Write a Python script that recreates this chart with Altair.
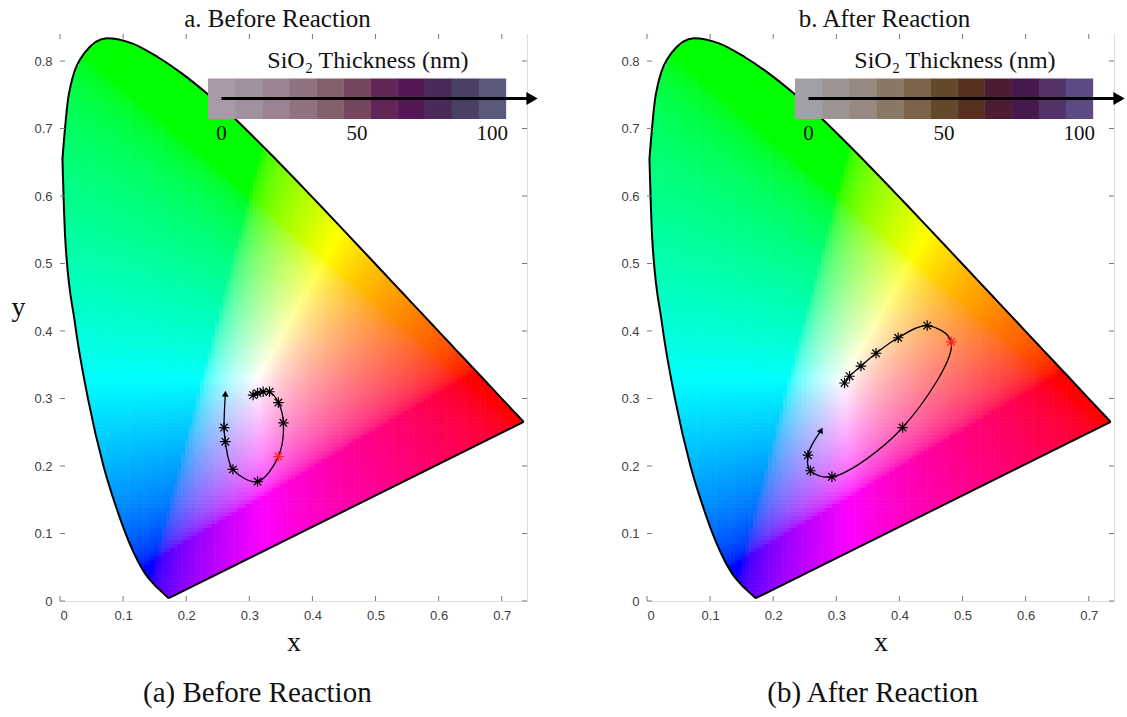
import numpy as np
import pandas as pd
import altair as alt

# ---------------- data ----------------
# CIE 1931 2-degree spectral locus (wavelength nm, x, y)
LOCUS_NM = [380, 390, 400, 410, 420, 430, 440, 445, 450, 455, 460, 465, 470, 475, 480, 485, 490, 495,
            500, 505, 510, 515, 520, 525, 530, 535, 540, 545, 550, 555, 560, 565, 570, 575, 580, 585,
            590, 595, 600, 605, 610, 615, 620, 630, 640, 650, 660, 680, 700]
LOCUS_X = [0.1741, 0.1738, 0.1733, 0.1726, 0.1714, 0.1689, 0.1644, 0.1611, 0.1566, 0.1510, 0.1440, 0.1355,
           0.1241, 0.1096, 0.0913, 0.0687, 0.0454, 0.0235, 0.0082, 0.0039, 0.0139, 0.0389, 0.0743, 0.1142,
           0.1547, 0.1929, 0.2296, 0.2658, 0.3016, 0.3373, 0.3731, 0.4087, 0.4441, 0.4788, 0.5125, 0.5448,
           0.5752, 0.6029, 0.6270, 0.6482, 0.6658, 0.6801, 0.6915, 0.7079, 0.7190, 0.7260, 0.7300, 0.7334, 0.7347]
LOCUS_Y = [0.0050, 0.0049, 0.0048, 0.0048, 0.0051, 0.0069, 0.0109, 0.0138, 0.0177, 0.0227, 0.0297, 0.0399,
           0.0578, 0.0868, 0.1327, 0.2007, 0.2950, 0.4127, 0.5384, 0.6548, 0.7502, 0.8120, 0.8338, 0.8262,
           0.8059, 0.7816, 0.7543, 0.7243, 0.6923, 0.6589, 0.6245, 0.5896, 0.5547, 0.5202, 0.4866, 0.4544,
           0.4242, 0.3965, 0.3725, 0.3514, 0.3340, 0.3197, 0.3083, 0.2920, 0.2809, 0.2740, 0.2700, 0.2666, 0.2653]

# SiO2 thickness (nm) and swatch colours
THICKNESS = [0, 10, 20, 30, 40, 50, 60, 70, 80, 90, 100]
SWATCH_A = ["#a898a8", "#a090a0", "#9a8292", "#907282", "#84606e", "#76465e", "#622656", "#541856",
            "#4a2a5a", "#4a4066", "#5a5a7c"]
SWATCH_B = ["#a2a0a6", "#9c9490", "#968a80", "#8a7866", "#7c6448", "#64482a", "#583020", "#4e1c32",
            "#46184c", "#523268", "#5e4a82"]

# chromaticity trajectories (x, y) for each thickness
A_X = [0.306, 0.313, 0.322, 0.332, 0.346, 0.354, 0.346, 0.313, 0.274, 0.262, 0.260]
A_Y = [0.305, 0.308, 0.310, 0.310, 0.294, 0.264, 0.214, 0.177, 0.195, 0.236, 0.257]
A_TIP = [0.262, 0.307]
B_X = [0.313, 0.321, 0.339, 0.363, 0.398, 0.444, 0.482, 0.405, 0.293, 0.259, 0.255]
B_Y = [0.323, 0.333, 0.348, 0.367, 0.390, 0.408, 0.384, 0.257, 0.184, 0.193, 0.216]
B_TIP = [0.276, 0.253]
HIGHLIGHT = 60  # nm, drawn in red

X_TICKS = [0, 0.1, 0.2, 0.3, 0.4, 0.5, 0.6, 0.7]
Y_TICKS = [0, 0.1, 0.2, 0.3, 0.4, 0.5, 0.6, 0.7, 0.8]

# ---------------- layout constants ----------------
W, H = 467, 567
XMAX, YMAX = 0.74, 0.84
SW_X0, SW_X1, SW_Y0, SW_Y1 = 0.2345, 0.7065, 0.714, 0.774
ARROW_Y, ARROW_END = 0.7445, 0.748
SERIF = "Liberation Serif"
SANS = "Liberation Sans"
STEP = 0.006

# ---------------- chromaticity background ----------------
lx = np.array(LOCUS_X)
ly = np.array(LOCUS_Y)


def inside(px, py):
    res = np.zeros(px.shape, dtype=bool)
    n = len(lx)
    j = n - 1
    for i in range(n):
        yi, yj, xi, xj = ly[i], ly[j], lx[i], lx[j]
        cond = ((yi > py) != (yj > py)) & (px < (xj - xi) * (py - yi) / (yj - yi + 1e-12) + xi)
        res ^= cond
        j = i
    return res


gx, gy = np.meshgrid(np.arange(0, XMAX, STEP), np.arange(0, YMAX, STEP))
gx = gx.ravel()
gy = gy.ravel()
keep = inside(gx + STEP / 2, gy + STEP / 2)
for dx in (0, STEP):
    for dy in (0, STEP):
        keep |= inside(gx + dx, gy + dy)
gx, gy = gx[keep], gy[keep]
cx, cy = gx + STEP / 2, gy + STEP / 2
cz = 1 - cx - cy
r = 3.2406 * cx - 1.5372 * cy - 0.4986 * cz
g = -0.9689 * cx + 1.8758 * cy + 0.0415 * cz
b = 0.0557 * cx - 0.2040 * cy + 1.0570 * cz
rgb = np.clip(np.stack([r, g, b], axis=1), 0, None)
rgb = rgb / rgb.max(axis=1, keepdims=True)
rgb = np.where(rgb <= 0.0031308, 12.92 * rgb, 1.055 * np.power(rgb, 1 / 2.4) - 0.055)
rgb = np.clip(np.round(rgb * 255), 0, 255).astype(int)
hexes = ["#%02x%02x%02x" % tuple(v) for v in rgb]
grid_df = pd.DataFrame({"x": np.round(gx, 4), "y": np.round(gy, 4), "c": hexes})

# boundaries
idx505 = LOCUS_NM.index(505)
up_df = pd.DataFrame({"x": LOCUS_X[idx505:], "y": LOCUS_Y[idx505:], "seg": "up"})
blue_df = pd.DataFrame({"x": LOCUS_X[:idx505 + 1], "y": LOCUS_Y[:idx505 + 1], "seg": "blue"})
purple_df = pd.DataFrame({"x": [LOCUS_X[0], LOCUS_X[-1]], "y": [LOCUS_Y[0], LOCUS_Y[-1]], "seg": "purple"})
strip_df = pd.DataFrame({"x": [0, LOCUS_X[-1]], "x2": [LOCUS_X[idx505], XMAX]})

xs = alt.Scale(domain=[0, XMAX], nice=False, zero=False)
ys = alt.Scale(domain=[0, YMAX], nice=False, zero=False)

STAR = "M-1,0L1,0M0,-1L0,1M-0.72,-0.72L0.72,0.72M-0.72,0.72L0.72,-0.72"


def panel(title, title_dx, caption, caption_dx, swatch, tx, ty, tip, show_ytitle):
    xaxis = alt.Axis(values=X_TICKS, format="~g", ticks=False, domain=False, grid=False,
                     labelFont=SANS, labelFontSize=13, labelColor="#404040", labelPadding=8,
                     title="x", titleFont=SERIF, titleFontSize=28, titleFontWeight="normal",
                     titleColor="#111", titlePadding=6)
    yaxis = alt.Axis(values=Y_TICKS, format="~g", ticks=False, domain=False, grid=False,
                     labelFont=SANS, labelFontSize=13, labelColor="#404040", labelPadding=8,
                     title="y" if show_ytitle else "", titleFont=SERIF, titleFontSize=28,
                     titleFontWeight="normal", titleColor="#111", titleAngle=0,
                     titleBaseline="middle", titlePadding=16, titleY=H / 2 - 10)

    def X(f):
        return alt.X(f, scale=xs, axis=xaxis)

    def Y(f):
        return alt.Y(f, scale=ys, axis=yaxis)

    def YD(v):
        return alt.Y(datum=v, scale=ys, axis=yaxis)

    def XD(v):
        return alt.X(datum=v, scale=xs, axis=xaxis)

    bg = alt.Chart(grid_df).transform_calculate(
        x2=f"datum.x + {STEP * 1.15}", y2=f"datum.y + {STEP * 1.15}"
    ).mark_rect(strokeWidth=0).encode(
        x=X("x:Q"), x2="x2:Q", y=Y("y:Q"), y2="y2:Q",
        color=alt.Color("c:N", scale=None),
    )
    mask_up = alt.Chart(up_df).mark_area(color="white", interpolate="monotone").encode(
        x=X("x:Q"), y=Y("y:Q"), y2=alt.datum(YMAX))
    mask_blue = alt.Chart(blue_df).mark_area(color="white", interpolate="monotone").encode(
        x=X("x:Q"), y=Y("y:Q"), y2=alt.datum(0))
    mask_purple = alt.Chart(purple_df).mark_area(color="white").encode(
        x=X("x:Q"), y=Y("y:Q"), y2=alt.datum(0))
    mask_strip = alt.Chart(strip_df).mark_rect(color="white").encode(
        x=X("x:Q"), x2="x2:Q", y=YD(0), y2=alt.datum(YMAX))
    out_curve = alt.Chart(pd.concat([up_df, blue_df])).mark_line(
        color="black", strokeWidth=2, interpolate="monotone").encode(
        x=X("x:Q"), y=Y("y:Q"), detail="seg:N")
    out_line = alt.Chart(purple_df).mark_line(color="black", strokeWidth=2).encode(
        x=X("x:Q"), y=Y("y:Q"))

    # inward ticks
    xt = pd.DataFrame({"t": X_TICKS})
    yt = pd.DataFrame({"t": Y_TICKS})
    tcol = "#7a7a7a"
    tick_b = alt.Chart(xt).mark_rule(color=tcol).encode(
        x=X("t:Q"), y=alt.value(H), y2=alt.value(H - 5))
    tick_t = alt.Chart(xt).mark_rule(color=tcol).encode(
        x=X("t:Q"), y=alt.value(0), y2=alt.value(5))
    tick_l = alt.Chart(yt).mark_rule(color=tcol).encode(
        y=Y("t:Q"), x=alt.value(0), x2=alt.value(5))
    tick_r = alt.Chart(yt).mark_rule(color=tcol).encode(
        y=Y("t:Q"), x=alt.value(W), x2=alt.value(W - 5))

    # thickness swatches
    n = len(THICKNESS)
    cw = (SW_X1 - SW_X0) / n
    sw_df = pd.DataFrame({
        "t": THICKNESS, "c": swatch,
        "x": [SW_X0 + i * cw for i in range(n)],
        "x2": [SW_X0 + (i + 1) * cw + 0.0005 for i in range(n)],
    })
    sw = alt.Chart(sw_df).mark_rect(strokeWidth=0).encode(
        x=X("x:Q"), x2="x2:Q",
        y=YD(SW_Y0), y2=alt.datum(SW_Y1), color=alt.Color("c:N", scale=None))
    lab_df = sw_df[sw_df["t"].isin([0, 50, 100])].assign(xc=lambda d: d["x"] + cw / 2,
                                                         lab=lambda d: d["t"].astype(str))
    sw_lab = alt.Chart(lab_df).mark_text(font=SERIF, fontSize=21, color="#111", baseline="middle").encode(
        x=X("xc:Q"), y=YD(0.692), text="lab:N")
    sw_title = alt.Chart(pd.DataFrame({"s": ["SiO₂ Thickness (nm)"]})).mark_text(
        font=SERIF, fontSize=24, color="#111", baseline="alphabetic").encode(
        x=XD(0.488), y=YD(0.790), text="s:N")
    ar_df = pd.DataFrame({"x": [SW_X0 + cw / 2], "x2": [ARROW_END]})
    sw_arrow = alt.Chart(ar_df).mark_rule(color="black", strokeWidth=3).encode(
        x=X("x:Q"), x2="x2:Q", y=YD(ARROW_Y))
    sw_head = alt.Chart(ar_df).mark_point(shape="triangle-right", filled=True, color="black",
                                          size=170, opacity=1).encode(
        x=X("x2:Q"), y=YD(ARROW_Y))

    # trajectory
    tr_df = pd.DataFrame({"i": list(range(n)) + [n], "x": tx + [tip[0]], "y": ty + [tip[1]]})
    tr_line = alt.Chart(tr_df).mark_line(color="black", strokeWidth=1.3, interpolate="catmull-rom").encode(
        x=X("x:Q"), y=Y("y:Q"), order="i:Q")
    pt_df = pd.DataFrame({"t": THICKNESS, "x": tx, "y": ty,
                          "c": ["#ff2020" if t == HIGHLIGHT else "#000000" for t in THICKNESS]})
    stars = alt.Chart(pt_df).mark_point(shape=STAR, filled=False, size=110, strokeWidth=1.2,
                                        opacity=1).encode(
        x=X("x:Q"), y=Y("y:Q"), color=alt.Color("c:N", scale=None))
    px = tip[0] - tx[-1]
    py = tip[1] - ty[-1]
    ang = float(np.degrees(np.arctan2(px * W / XMAX, py * H / YMAX))) % 360
    tip_df = pd.DataFrame({"x": [tip[0]], "y": [tip[1]]})
    head = alt.Chart(tip_df).mark_point(shape="triangle-up", filled=True, color="black", size=45,
                                        opacity=1, angle=ang).encode(
        x=X("x:Q"), y=Y("y:Q"))

    layer = alt.layer(bg, mask_up, mask_blue, mask_purple, mask_strip, out_curve, out_line,
                      tick_b, tick_t, tick_l, tick_r, sw, sw_arrow, sw_head, sw_lab, sw_title,
                      tr_line, stars, head).properties(
        width=W, height=H,
        title=alt.TitleParams(title, font=SERIF, fontSize=25, fontWeight="normal", color="#111",
                              offset=2, anchor="middle", frame="group", dx=title_dx))
    return alt.vconcat(layer).properties(
        title=alt.TitleParams(caption, orient="bottom", font=SERIF, fontSize=29, fontWeight="normal",
                              color="#111", offset=22, anchor="middle", dx=caption_dx))


pa = panel("a.  Before Reaction", -16, "(a) Before Reaction", -17, SWATCH_A, A_X, A_Y, A_TIP, True)
pb = panel("b.  After Reaction", 4, "(b) After Reaction", 0, SWATCH_B, B_X, B_Y, B_TIP, False)

chart = alt.hconcat(pa, pb, spacing=81).properties(
    padding={"left": 10, "top": 6, "right": 0, "bottom": 0}
).configure_view(stroke="#7a7a7a", strokeWidth=1).configure(background="white")

chart.save("out.html", embed_options={"renderer": "svg", "actions": False})
